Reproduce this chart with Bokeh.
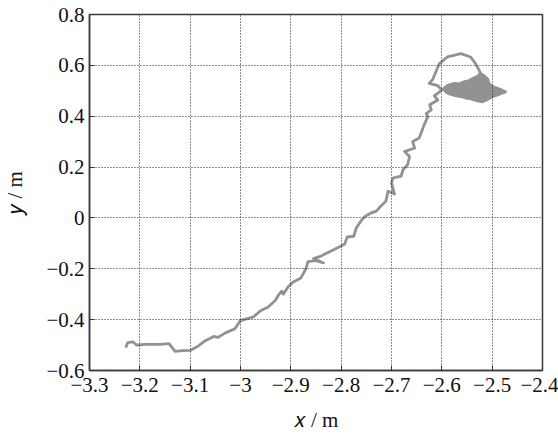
from bokeh.plotting import figure
from bokeh.models import FixedTicker, Range1d
from bokeh.embed import file_html
from bokeh.resources import INLINE

# trajectory (x, y) in metres
x_vals = [-3.228, -3.224, -3.214, -3.206, -3.190, -3.160, -3.142, -3.135, -3.130, -3.115,
          -3.100, -3.085, -3.070, -3.053, -3.045, -3.030, -3.011, -3.001, -2.985, -2.975,
          -2.960, -2.945, -2.931, -2.925, -2.918, -2.915, -2.905, -2.895, -2.880, -2.870,
          -2.866, -2.850, -2.835, -2.855, -2.840, -2.826, -2.812, -2.800, -2.793, -2.788,
          -2.775, -2.770, -2.760, -2.752, -2.740, -2.730, -2.722, -2.711, -2.707, -2.700,
          -2.694, -2.700, -2.697, -2.681, -2.677, -2.668, -2.664, -2.674, -2.654, -2.658,
          -2.645, -2.640, -2.636, -2.628, -2.631, -2.621, -2.624, -2.608, -2.615, -2.600,
          -2.608, -2.625, -2.618, -2.612, -2.605, -2.589, -2.562, -2.543, -2.533, -2.526,
          -2.523, -2.540, -2.575, -2.596, -2.550, -2.500, -2.473]
y_vals = [-0.510, -0.490, -0.487, -0.500, -0.497, -0.497, -0.494, -0.512, -0.525, -0.522,
          -0.521, -0.505, -0.483, -0.466, -0.470, -0.452, -0.436, -0.405, -0.395, -0.390,
          -0.365, -0.350, -0.325, -0.305, -0.288, -0.300, -0.270, -0.252, -0.236, -0.200,
          -0.172, -0.168, -0.177, -0.160, -0.150, -0.136, -0.122, -0.110, -0.103, -0.075,
          -0.072, -0.040, -0.010, 0.007, 0.020, 0.027, 0.045, 0.066, 0.105, 0.100,
          0.094, 0.138, 0.157, 0.164, 0.190, 0.209, 0.242, 0.261, 0.275, 0.300,
          0.314, 0.340, 0.362, 0.398, 0.410, 0.425, 0.445, 0.464, 0.480, 0.503,
          0.520, 0.529, 0.545, 0.574, 0.607, 0.633, 0.646, 0.633, 0.607, 0.581,
          0.568, 0.500, 0.505, 0.505, 0.470, 0.490, 0.496]

# outline of the dense, tangled end of the trajectory
blob_x = [-2.597, -2.590, -2.582, -2.575, -2.565, -2.556, -2.546, -2.539, -2.530, -2.523,
          -2.517, -2.513, -2.508, -2.506, -2.500, -2.493, -2.483, -2.473, -2.482, -2.490,
          -2.498, -2.506, -2.512, -2.519, -2.527, -2.536, -2.546, -2.556, -2.566, -2.575,
          -2.584, -2.592]
blob_y = [0.508, 0.520, 0.526, 0.530, 0.528, 0.536, 0.541, 0.549, 0.557, 0.568,
          0.562, 0.555, 0.545, 0.529, 0.520, 0.513, 0.506, 0.496, 0.489, 0.482,
          0.477, 0.469, 0.462, 0.456, 0.459, 0.463, 0.469, 0.475, 0.477, 0.481,
          0.486, 0.494]

x_ticks = [-3.3, -3.2, -3.1, -3.0, -2.9, -2.8, -2.7, -2.6, -2.5, -2.4]
x_tick_labels = ["−3.3", "−3.2", "−3.1", "−3", "−2.9", "−2.8", "−2.7", "−2.6", "−2.5", "−2.4"]
y_ticks = [-0.6, -0.4, -0.2, 0.0, 0.2, 0.4, 0.6, 0.8]
y_tick_labels = ["−0.6", "−0.4", "−0.2", "0", "0.2", "0.4", "0.6", "0.8"]
x_title = "𝑥 / m"
y_title = "𝑦 / m"

FONT = "Liberation Serif"
DARK = "#3a3a3a"
GRAY = "#929292"

p = figure(width=558, height=434, x_range=Range1d(-3.3, -2.4), y_range=Range1d(-0.6, 0.8),
           output_backend="svg", toolbar_location=None,
           min_border_left=87, min_border_right=16, min_border_top=14, min_border_bottom=62)
p.background_fill_color = "white"
p.border_fill_color = "white"
p.outline_line_color = DARK
p.outline_line_width = 1.5

p.patch(blob_x, blob_y, fill_color=GRAY, line_color=GRAY, line_width=2.4, line_join="round")
p.line(x_vals, y_vals, line_color=GRAY, line_width=2.8, line_join="round")

xt = FixedTicker(ticks=x_ticks)
yt = FixedTicker(ticks=y_ticks)

for ax, ticks, labels, tk, title in ((p.xaxis[0], x_ticks, x_tick_labels, xt, x_title),
                                     (p.yaxis[0], y_ticks, y_tick_labels, yt, y_title)):
    ax.ticker = tk
    ax.major_label_overrides = {t: l for t, l in zip(ticks, labels)}
    ax.major_label_text_font = FONT
    ax.major_label_text_font_size = "21px"
    ax.major_label_text_color = "#111111"
    ax.major_tick_in = 5
    ax.major_tick_out = 0
    ax.minor_tick_in = 0
    ax.minor_tick_out = 0
    ax.axis_line_color = DARK
    ax.axis_line_width = 1.5
    ax.major_tick_line_color = DARK
    ax.axis_label = title
    ax.axis_label_text_font = FONT
    ax.axis_label_text_font_style = "normal"
    ax.axis_label_text_font_size = "21px"
    ax.axis_label_text_color = "#111111"

p.xaxis[0].major_label_standoff = 7
p.yaxis[0].major_label_standoff = 5
p.xaxis[0].axis_label_standoff = 13
p.yaxis[0].axis_label_standoff = 16

for g, tk in ((p.xgrid[0], xt), (p.ygrid[0], yt)):
    g.ticker = tk
    g.grid_line_color = "#222222"
    g.grid_line_dash = "1 2"
    g.grid_line_width = 1
    g.level = "overlay"

open("out.html", "w").write(file_html(p, INLINE))
